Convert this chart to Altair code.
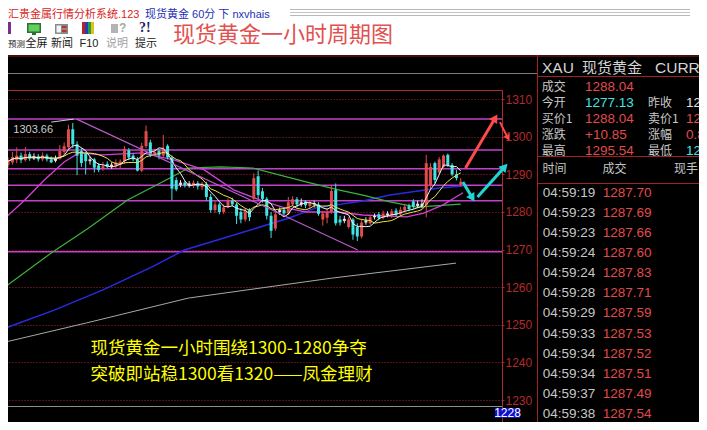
import math
import altair as alt
import pandas as pd

# ---------------- 60-minute candles ----------------
opens = [1292.5, 1293.2, 1293.8, 1295.0, 1293.8, 1295.4, 1294.2, 1294.8, 1294.0, 1295.0,
         1294.0, 1293.6, 1294.2, 1296.0, 1297.2, 1302.0, 1298.0, 1296.2, 1295.5, 1293.5,
         1294.0, 1292.4, 1291.5, 1292.8, 1292.0, 1292.2, 1292.5, 1293.5, 1296.4, 1295.0,
         1294.0, 1291.0, 1297.5, 1298.5, 1295.3, 1296.2, 1295.0, 1297.6, 1294.5, 1288.5,
         1287.2, 1287.8, 1287.0, 1287.0, 1287.6, 1286.6, 1287.5, 1284.0, 1280.5, 1282.0,
         1280.0, 1281.4, 1283.0, 1282.0, 1280.0, 1278.0, 1280.5, 1283.5, 1289.5, 1285.5,
         1283.5, 1279.0, 1275.6, 1280.0, 1280.6, 1279.6, 1282.0, 1283.4, 1282.0, 1282.8,
         1281.6, 1282.4, 1282.0, 1278.0, 1278.5, 1280.0, 1285.8, 1278.0, 1277.6, 1276.0,
         1278.0, 1276.0, 1273.5, 1277.2, 1277.0, 1278.6, 1279.4, 1278.4, 1279.6, 1279.0,
         1280.4, 1279.4, 1280.4, 1281.6, 1282.8, 1282.2, 1281.6, 1281.8, 1287.0, 1293.0,
         1290.5, 1292.0, 1295.2, 1292.5, 1290.0, 1287.2]
highs = [1294.5, 1296.0, 1297.2, 1295.8, 1297.3, 1296.0, 1295.6, 1295.4, 1295.8, 1295.5,
         1294.8, 1295.0, 1297.8, 1298.5, 1303.2, 1303.66, 1298.8, 1297.0, 1296.0, 1294.8,
         1294.4, 1293.0, 1293.3, 1293.5, 1293.2, 1294.0, 1294.0, 1297.5, 1297.0, 1295.6,
         1294.6, 1298.4, 1303.0, 1299.2, 1296.8, 1296.8, 1300.5, 1298.0, 1295.0, 1289.2,
         1288.5, 1288.3, 1288.2, 1288.4, 1288.2, 1288.0, 1288.0, 1284.8, 1282.8, 1282.5,
         1282.0, 1283.6, 1283.8, 1282.5, 1281.0, 1281.0, 1281.0, 1290.3, 1291.0, 1286.4,
         1284.0, 1280.0, 1280.2, 1281.2, 1281.2, 1284.0, 1284.2, 1284.0, 1283.6, 1283.2,
         1283.2, 1283.0, 1282.6, 1280.3, 1281.0, 1287.2, 1287.6, 1279.0, 1279.0, 1278.6,
         1278.4, 1277.0, 1278.0, 1278.6, 1279.2, 1279.6, 1280.0, 1280.4, 1280.2, 1280.8,
         1281.0, 1281.4, 1282.2, 1282.2, 1283.4, 1283.0, 1283.4, 1295.2, 1293.0, 1293.4,
         1294.6, 1295.3, 1295.54, 1293.0, 1291.2, 1289.0]
lows = [1291.8, 1292.6, 1293.0, 1293.0, 1293.4, 1293.6, 1293.8, 1293.4, 1293.5, 1293.4,
        1293.0, 1293.2, 1293.9, 1295.0, 1296.5, 1297.0, 1289.8, 1292.0, 1290.0, 1292.6,
        1290.5, 1290.6, 1291.0, 1291.6, 1291.5, 1291.5, 1291.6, 1292.8, 1293.8, 1293.5,
        1290.8, 1290.6, 1297.0, 1294.6, 1294.8, 1294.0, 1294.6, 1294.0, 1283.2, 1285.5,
        1286.6, 1286.5, 1286.5, 1286.4, 1286.0, 1285.8, 1283.0, 1279.8, 1279.8, 1279.4,
        1279.5, 1281.0, 1281.5, 1276.8, 1277.0, 1277.4, 1277.6, 1282.8, 1283.5, 1282.5,
        1278.0, 1273.1, 1275.0, 1279.2, 1279.0, 1279.2, 1281.6, 1281.2, 1281.4, 1281.0,
        1281.0, 1281.2, 1279.0, 1276.4, 1277.0, 1279.5, 1276.4, 1276.4, 1277.0, 1275.6,
        1272.6, 1272.3, 1273.0, 1276.6, 1276.6, 1278.0, 1277.8, 1278.0, 1278.6, 1278.4,
        1278.8, 1278.8, 1279.8, 1280.2, 1280.8, 1281.0, 1281.0, 1278.6, 1286.0, 1287.6,
        1290.0, 1291.4, 1292.0, 1289.5, 1288.4, 1286.8]
closes = [1293.5, 1294.6, 1295.0, 1293.8, 1295.4, 1294.2, 1294.8, 1294.0, 1295.0, 1294.0,
          1293.2, 1294.2, 1296.2, 1297.5, 1302.0, 1298.0, 1295.0, 1293.0, 1293.5, 1294.0,
          1291.8, 1291.2, 1292.2, 1292.0, 1292.6, 1293.2, 1293.4, 1296.8, 1294.5, 1294.0,
          1291.0, 1297.6, 1301.5, 1295.2, 1296.0, 1295.0, 1296.8, 1294.5, 1286.2, 1286.0,
          1287.8, 1287.0, 1287.6, 1287.8, 1286.8, 1287.5, 1284.0, 1280.5, 1282.0, 1280.0,
          1281.2, 1283.0, 1282.0, 1279.0, 1278.0, 1280.2, 1278.6, 1289.0, 1284.5, 1283.5,
          1279.0, 1275.0, 1279.4, 1280.6, 1279.6, 1282.6, 1283.4, 1282.0, 1282.6, 1281.8,
          1282.6, 1282.0, 1279.5, 1279.6, 1280.0, 1285.6, 1277.0, 1277.2, 1278.2, 1278.0,
          1274.0, 1273.5, 1277.2, 1277.8, 1278.6, 1279.0, 1278.4, 1279.6, 1279.2, 1280.2,
          1279.4, 1280.6, 1281.4, 1280.8, 1281.4, 1281.6, 1282.2, 1293.0, 1292.0, 1288.5,
          1294.0, 1295.0, 1292.5, 1290.0, 1289.0, 1288.04]

# longer moving averages (bar index, price)
mag_x = [-0.7, 3.9, 8.4, 13.0, 16.4, 22.0, 31.1, 38.6, 45.5, 52.3, 58.4, 63.6, 69.1, 76.6, 82.3, 92.5, 96.4, 100.9, 105.5]
mag_y = [1278.4, 1283.2, 1288.5, 1293.3, 1295.7, 1295.2, 1295.7, 1293.8, 1291.2, 1285.9, 1283.2, 1281.3, 1280.0, 1280.0, 1279.2, 1278.7, 1279.7, 1281.9, 1285.1]
grn_x = [-0.7, 10.0, 18.6, 27.7, 38.0, 41.8, 49.3, 56.8, 69.1, 76.6, 82.3, 88.6, 94.8, 105.0]
grn_y = [1260.1, 1269.1, 1275.7, 1283.2, 1289.3, 1291.7, 1292.0, 1291.7, 1288.0, 1285.9, 1284.5, 1282.7, 1281.3, 1282.1]
blu_x = [-0.7, 10.7, 22.0, 33.4, 40.9, 53.9, 65.2, 71.4, 82.3, 88.6, 100.0, 105.5]
blu_y = [1249.1, 1253.9, 1259.3, 1265.4, 1269.9, 1274.4, 1278.4, 1281.1, 1282.9, 1284.5, 1286.4, 1286.9]
gry_x = [-0.7, 18.2, 41.8, 75.0, 103.9]
gry_y = [1245.4, 1250.5, 1257.1, 1262.4, 1266.4]

# horizontal support / resistance lines
level_prices = [1304.7, 1296.5, 1291.5, 1287.1, 1283.0, 1269.4]
axis_values = [1230, 1240, 1250, 1260, 1270, 1280, 1290, 1300, 1310]

# drawn trend line and peak marker
trend_x = [15.9, 81.1]
trend_y = [1304.7, 1269.9]
peak_x = [10.0, 15.2]
peak_y = [1303.9, 1304.7]
peak_label = "1303.66"
peak_label_x = 1.2
peak_label_y = 1301.8

# arrows (start -> tip)
arrow_kind = ["red", "red", "cyan", "cyan"]
arrow_x0 = [106.1, 114.1, 105.5, 108.9]
arrow_y0 = [1291.7, 1303.9, 1288.0, 1284.0]
arrow_x1 = [113.0, 115.9, 107.7, 115.2]
arrow_y1 = [1305.0, 1299.7, 1283.7, 1292.0]

# annotation text
notes = ["现货黄金一小时围绕1300-1280争夺", "突破即站稳1300看1320——凤金理财"]
note_x = [19.1, 19.1]
note_y = [1243.6, 1236.7]

last_low_label = "1228"

# quote panel
quote_left_labels = ["成交", "今开", "买价1", "涨跌", "最高"]
quote_left_values = ["1288.04", "1277.13", "1288.04", "+10.85", "1295.54"]
quote_right_labels = ["昨收", "卖价1", "涨幅", "最低"]
quote_right_values = ["1277.19", "1288.34", "0.85%", "1276.02"]
prev_close = 1277.19
trade_times = ["04:59:19", "04:59:23", "04:59:23", "04:59:24", "04:59:24", "04:59:28",
               "04:59:29", "04:59:33", "04:59:34", "04:59:34", "04:59:37", "04:59:38"]
trade_prices = ["1287.70", "1287.69", "1287.66", "1287.60", "1287.83", "1287.71",
                "1287.59", "1287.53", "1287.52", "1287.51", "1287.49", "1287.54"]

# ---------------- styling ----------------
W, H = 494, 365
XDOM = [1.136, 113.41]
YDOM = [1224.15, 1321.22]
XS = alt.Scale(domain=XDOM, nice=False, zero=False)
YS = alt.Scale(domain=YDOM, nice=False, zero=False)
CJK = "Noto Sans CJK SC"
LAT = "Liberation Sans"
MIX = "Liberation Sans, Noto Sans CJK SC"
RED, CYAN, WHITE = "#e04b4b", "#42e4e4", "#e2e2e2"
AXRED = "#b32a2a"
TONE = alt.Color("tone:N", scale=alt.Scale(domain=["up", "down", "flat"], range=[RED, CYAN, WHITE]), legend=None)
YAX = alt.Axis(orient="right", values=axis_values, format="d", title=None, labelColor=AXRED, labelFont=LAT,
               labelFontSize=12, labelPadding=1, tickColor=AXRED, tickSize=2, domain=False,
               grid=True, gridColor="#a82424", gridDash=[1, 2], labelFlush=False)


def X(f):
    return alt.X(f, type="quantitative", scale=XS, axis=None)


def Y(f):
    return alt.Y(f, type="quantitative", scale=YS, axis=YAX)


one = pd.DataFrame({"k": [0]})


def box(x0, x1, y0, y1, color):
    return alt.Chart(one).mark_rect(color=color).encode(
        x=alt.value(x0), x2=alt.value(x1), y=alt.value(y0), y2=alt.value(y1))


def hline(x0, x1, y, color, w=1):
    return alt.Chart(one).mark_rule(color=color, strokeWidth=w).encode(
        x=alt.value(x0), x2=alt.value(x1), y=alt.value(y))


def vline(x, y0, y1, color, w=1):
    return alt.Chart(one).mark_rule(color=color, strokeWidth=w).encode(
        x=alt.value(x), y=alt.value(y0), y2=alt.value(y1))


def label(text, x, y, size, color, font=CJK, align="left", weight="normal"):
    return alt.Chart(one).mark_text(text=text, font=font, fontSize=size, color=color,
                                    align=align, baseline="middle", fontWeight=weight).encode(
        x=alt.value(x), y=alt.value(y))


layers = []

# ---- support / resistance lines (carry the price axis, drawn first) ----
layers.append(alt.Chart(pd.DataFrame({"p": level_prices})).mark_rule(color="#c440cc", strokeWidth=1.5)
              .encode(y=Y("p")))

# ---- header (white strip above the chart) ----
layers.append(box(0, 691, -49, -2, "white"))
layers.append(box(0, 691, -2, 0, "#4a0d0d"))
layers.append(label("汇贵金属行情分析系统.123", 0, -42, 11, "#d82424", font=MIX))
layers.append(label("现货黄金 60分 下 nxvhais", 137, -42, 11, "#2430b4", font=MIX))
layers.append(hline(282, 682, -47.5, "#b8b8b8"))
layers.append(hline(282, 682, -44.5, "#c4c4c4"))
layers.append(hline(282, 682, -41.5, "#b8b8b8"))
# toolbar icons
layers.append(box(0, 3, -35, -23, "#7a2e8e"))
layers.append(box(19, 33, -34, -24, "#2f6f2f"))
layers.append(box(20.5, 31.5, -32.5, -25.5, "#5fd05f"))
layers.append(box(24, 28, -24, -22, "#2f6f2f"))
layers.append(box(47, 60, -33, -23, "#8a8a8a"))
layers.append(box(48.5, 53, -31.5, -24.5, "#f4f4f4"))
layers.append(box(54, 58.5, -31, -29, "#c03030"))
layers.append(box(54, 58.5, -27, -25, "#c03030"))
layers.append(box(74, 77, -35, -23, "#c02020"))
layers.append(box(77, 80, -35, -23, "#2040c0"))
layers.append(box(80, 83, -35, -23, "#20a040"))
layers.append(box(83, 86, -35, -23, "#e0c020"))
layers.append(box(103, 110, -33, -24, "#b4b4b4"))
layers.append(label("?", 111, -29, 12, "#a8a8a8", font=LAT, weight="bold"))
layers.append(label("?!", 131, -29, 14, "#1c2466", font="Liberation Serif", weight="bold"))
layers.append(label("预测", 0, -13, 8.5, "#202020"))
for txt, cx, col in [("全屏", 28.5, "#202020"), ("新闻", 54, "#202020"),
                     ("F10", 81, "#202020"), ("说明", 109, "#a0a0a0"), ("提示", 138, "#202020")]:
    layers.append(label(txt, cx, -13, 11, col, font=CJK if txt != "F10" else LAT, align="center"))
layers.append(label("现货黄金一小时周期图", 165, -22, 22, "#e05252", font=MIX))

# ---- chart frame ----
layers.append(hline(0, 529, 16.5, "#7c7c7c"))
layers.append(hline(0, 494, 33.5, AXRED))
layers.append(hline(0, 494, 349.5, "#8c8c8c"))
layers.append(vline(494.5, 33, 365, AXRED))

# ---- longer moving averages ----
for xs_, ys_, col, w in [(gry_x, gry_y, "#a8a8a8", 1), (blu_x, blu_y, "#2a2ae0", 1.5),
                         (grn_x, grn_y, "#3cb43c", 1.2), (mag_x, mag_y, "#d040d8", 1.3)]:
    layers.append(alt.Chart(pd.DataFrame({"x": xs_, "y": ys_})).mark_line(color=col, strokeWidth=w)
                  .encode(x=X("x"), y=Y("y")))

# ---- candles ----
cd = pd.DataFrame({"i": list(range(len(opens))), "O": opens, "H": highs, "L": lows, "C": closes})
cbase = alt.Chart(cd).transform_calculate(
    tone="datum.C - datum.O > 0.7 ? 'up' : (datum.O - datum.C > 0.7 ? 'down' : 'flat')")
layers.append(cbase.mark_rule(strokeWidth=1).encode(x=X("i"), y=Y("L"), y2="H", color=TONE))
layers.append(cbase.mark_bar(size=3).encode(x=X("i"), y=Y("O"), y2="C", color=TONE))

# ---- short moving averages from the closes ----
ma = alt.Chart(cd).transform_window(ma5="mean(C)", frame=[-4, 0], sort=[alt.SortField("i")]) \
    .transform_window(ma10="mean(C)", frame=[-9, 0], sort=[alt.SortField("i")])
layers.append(ma.mark_line(color="#e6e64a", strokeWidth=1).encode(x=X("i"), y=Y("ma10")))
layers.append(ma.mark_line(color="#f2f2f2", strokeWidth=1).encode(x=X("i"), y=Y("ma5")))

# ---- drawn lines ----
layers.append(alt.Chart(pd.DataFrame({"x": trend_x, "y": trend_y})).mark_line(color="#b45cc8", strokeWidth=1.2)
              .encode(x=X("x"), y=Y("y")))
layers.append(alt.Chart(pd.DataFrame({"x": peak_x, "y": peak_y})).mark_line(color="#cfcfcf", strokeWidth=1)
              .encode(x=X("x"), y=Y("y")))
layers.append(alt.Chart(pd.DataFrame({"x": [peak_label_x], "y": [peak_label_y], "t": [peak_label]}))
              .mark_text(align="left", baseline="middle", font=LAT, fontSize=11, color="#cccccc")
              .encode(x=X("x"), y=Y("y"), text="t:N"))

# ---- arrows ----
sx = W / (XDOM[1] - XDOM[0])
sy = H / (YDOM[1] - YDOM[0])
ARROW = {"red": "#ff4a4a", "cyan": "#22d4d4"}
for k in range(len(arrow_x0)):
    ang = math.degrees(math.atan2((arrow_x1[k] - arrow_x0[k]) * sx, (arrow_y1[k] - arrow_y0[k]) * sy)) % 360
    adf = pd.DataFrame({"x0": [arrow_x0[k]], "y0": [arrow_y0[k]], "x1": [arrow_x1[k]],
                        "y1": [arrow_y1[k]], "ang": [ang]})
    small = k == 1
    col = ARROW[arrow_kind[k]]
    layers.append(alt.Chart(adf).mark_rule(color=col, strokeWidth=2 if small else 3)
                  .encode(x=X("x0"), x2="x1", y=Y("y0"), y2="y1"))
    layers.append(alt.Chart(adf).mark_point(shape="triangle-up", filled=True, opacity=1, color=col,
                                            size=45 if small else 90)
                  .encode(x=X("x1"), y=Y("y1"), angle=alt.Angle("ang:Q", scale=None)))

# ---- annotation ----
layers.append(alt.Chart(pd.DataFrame({"x": note_x, "y": note_y, "t": notes}))
              .mark_text(align="left", baseline="middle", font=CJK, fontSize=17.5, color="#ffff00")
              .encode(x=X("x"), y=Y("y"), text="t:N"))

# ---- 1228 box ----
layers.append(box(487, 512, 351, 361, "#1010c8"))
layers.append(label(last_low_label, 499.5, 356, 12, "white", font=LAT, align="center"))

# ---- quote panel ----
layers.append(vline(529.5, -2, 365, "#a02222"))
layers.append(hline(529, 691, 19.5, "#a02222"))
layers.append(hline(529, 691, 99.5, "#a02222"))
layers.append(hline(529, 691, 126.5, "#a02222"))
layers.append(label("XAU", 534, 11, 15.5, "#d4d4d4", font=LAT))
layers.append(label("现货黄金", 574, 11, 15, "#d4d4d4"))
layers.append(label("CURR", 647, 11, 15.5, "#d4d4d4", font=LAT))
layers.append(label("时间", 534.5, 112, 12, "#c4c4c4"))
layers.append(label("成交", 594.5, 112, 12, "#c4c4c4"))
layers.append(label("现手", 666, 112, 12, "#c4c4c4"))


def tone_of(lab, val):
    if lab in ("涨跌", "涨幅"):
        return "down" if val.startswith("-") else "up"
    v = float(val)
    return "up" if v > prev_close else ("down" if v < prev_close else "flat")


PY = alt.Y("py:Q", scale=None, axis=None)
ql = pd.DataFrame({"r": list(range(len(quote_left_labels))), "lab": quote_left_labels, "val": quote_left_values,
                   "tone": [tone_of(a, b) for a, b in zip(quote_left_labels, quote_left_values)]})
qr = pd.DataFrame({"r": list(range(1, 1 + len(quote_right_labels))), "lab": quote_right_labels,
                   "val": quote_right_values,
                   "tone": [tone_of(a, b) for a, b in zip(quote_right_labels, quote_right_values)]})
td = pd.DataFrame({"r": list(range(len(trade_times))), "t": trade_times, "val": trade_prices,
                   "tone": [tone_of("", v) for v in trade_prices]})
qrows = "29.8 + 16.05 * datum.r"
trows = "135.8 + 20.1 * datum.r"
for df_, rowexpr, field, xpos, font, size, coloured in [
        (ql, qrows, "lab", 533.7, CJK, 12, False), (ql, qrows, "val", 577, LAT, 13.5, True),
        (qr, qrows, "lab", 640, CJK, 12, False), (qr, qrows, "val", 678, LAT, 13.5, True),
        (td, trows, "t", 534.7, LAT, 13.5, False), (td, trows, "val", 594.7, LAT, 13.5, True)]:
    enc = dict(x=alt.value(xpos), y=PY, text=alt.Text(field + ":N"))
    mk = dict(align="left", baseline="middle", font=font, fontSize=size)
    if coloured:
        enc["color"] = TONE
    else:
        mk["color"] = "#c8c8c8"
    layers.append(alt.Chart(df_).transform_calculate(py=rowexpr).mark_text(**mk).encode(**enc))

chart = alt.layer(*layers).properties(
    width=W, height=H,
    autosize=alt.AutoSizeParams(type="none"),
    padding={"left": 0, "top": 49, "right": 197, "bottom": 0},
).configure(background="black").configure_view(strokeWidth=0)

chart.save("out.html", embed_options={"renderer": "svg", "actions": False})
